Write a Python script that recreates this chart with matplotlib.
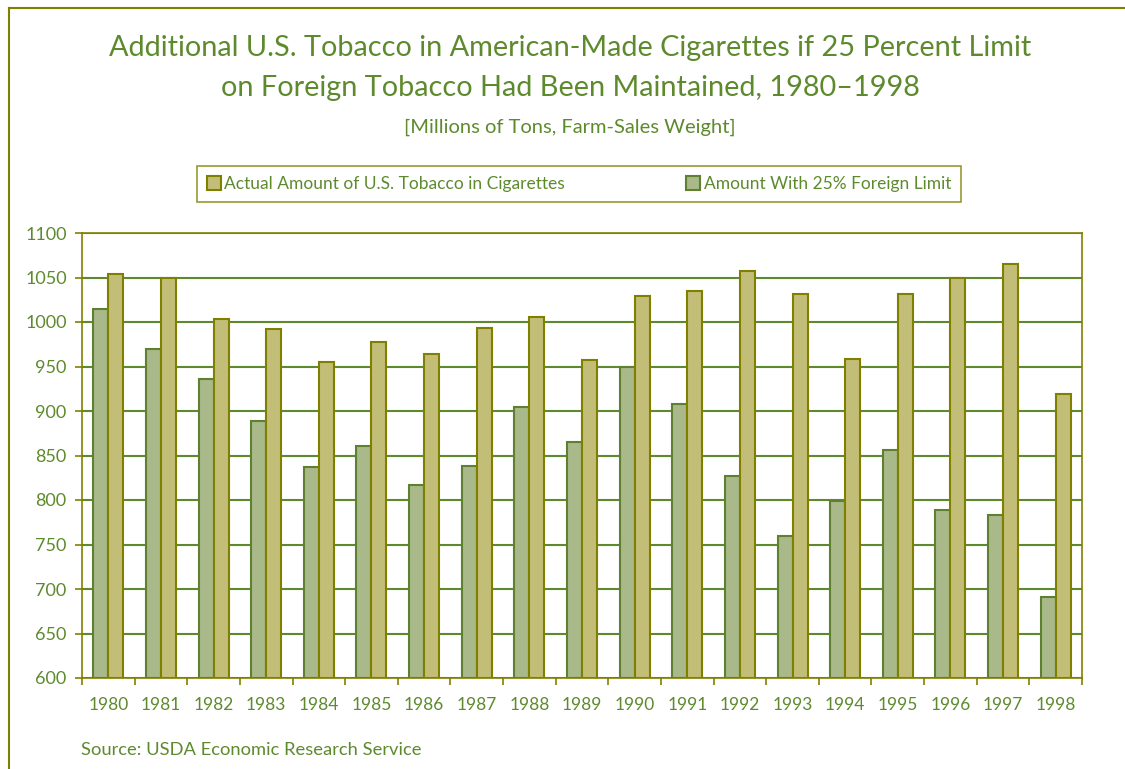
"""Additional U.S. tobacco in American-made cigarettes, 1980-1998 (grouped bars)."""
import matplotlib
matplotlib.use("Agg")
import matplotlib.pyplot as plt
from matplotlib.lines import Line2D
from matplotlib.patches import Patch
import numpy as np

years = ["1980", "1981", "1982", "1983", "1984", "1985", "1986", "1987", "1988", "1989",
         "1990", "1991", "1992", "1993", "1994", "1995", "1996", "1997", "1998"]
with_limit = [1015, 970, 936, 889, 837, 861, 817, 838, 904, 865,
              950, 908, 827, 760, 799, 856, 789, 783, 691]
actual = [1054, 1049, 1003, 992, 955, 978, 964, 993, 1006, 957,
          1029, 1035, 1057, 1031, 958, 1032, 1050, 1065, 919]

TEXT = "#5E8A2E"
OLIVE = "#808000"
GREEN_FILL, GREEN_EDGE = "#A9B98A", "#5E8030"
KHAKI_FILL, KHAKI_EDGE = "#C2BE78", "#808000"

plt.rcParams["font.family"] = ["Lato", "DejaVu Sans"]

W, H = 1125, 769
fig = plt.figure(figsize=(W / 100, H / 100), dpi=100)
ax = fig.add_axes([82 / W, 1 - 678 / H, 1000 / W, 445 / H])

x = np.arange(len(years))
bw = 0.285
ax.bar(x - bw / 2, np.array(with_limit) - 600, bw, bottom=600,
       color=GREEN_FILL, edgecolor=GREEN_EDGE, linewidth=1.5, zorder=3)
ax.bar(x + bw / 2, np.array(actual) - 600, bw, bottom=600,
       color=KHAKI_FILL, edgecolor=KHAKI_EDGE, linewidth=1.5, zorder=3)

ax.set_xlim(-0.5, len(years) - 0.5)
ax.set_ylim(600, 1100)
ax.set_yticks(np.arange(600, 1101, 50))
ax.yaxis.grid(True, color="#5E8A2E", linewidth=1.5, zorder=0)
ax.set_axisbelow(True)

ax.set_xticks(x)
ax.set_xticklabels(years)
ax.set_xticks(np.arange(-0.5, len(years), 1), minor=True)
ax.tick_params(axis="x", which="major", length=0, pad=14, labelsize=12.5, labelcolor=TEXT)
ax.tick_params(axis="x", which="minor", length=5, color=OLIVE, width=1.2)
ax.tick_params(axis="y", length=5, color=OLIVE, width=1.2, pad=6, labelsize=13, labelcolor=TEXT)
for s in ax.spines.values():
    s.set_color(OLIVE)
    s.set_linewidth(1.2)

fig.text(570 / W, 1 - 48 / H, "Additional U.S. Tobacco in American-Made Cigarettes if 25 Percent Limit",
         ha="center", va="center", fontsize=20.8, color=TEXT)
fig.text(570 / W, 1 - 88 / H, "on Foreign Tobacco Had Been Maintained, 1980\u20131998",
         ha="center", va="center", fontsize=20.8, color=TEXT)
fig.text(570 / W, 1 - 127 / H, "[Millions of Tons, Farm-Sales Weight]",
         ha="center", va="center", fontsize=14.5, color=TEXT)
fig.text(81 / W, 1 - 750 / H, "Source: USDA Economic Research Service",
         ha="left", va="center", fontsize=13.2, color=TEXT)

handles = [Patch(facecolor=KHAKI_FILL, edgecolor=KHAKI_EDGE, linewidth=1.5),
           Patch(facecolor=GREEN_FILL, edgecolor=GREEN_EDGE, linewidth=1.5)]
labels = ["Actual Amount of U.S. Tobacco in Cigarettes", "Amount With 25% Foreign Limit"]
leg = fig.legend(handles, labels, loc="center", ncol=2,
                 bbox_to_anchor=(579 / W, 1 - 184 / H),
                 fontsize=12.5, frameon=True, fancybox=False,
                 handlelength=0.8, handleheight=0.8, handletextpad=0.2,
                 columnspacing=7.0, borderpad=0.55, borderaxespad=0)
leg.get_frame().set_edgecolor(OLIVE)
leg.get_frame().set_linewidth(1.2)
for t in leg.get_texts():
    t.set_color(TEXT)

# outer frame (top and left edges visible)
fig.add_artist(Line2D([9 / W, 1], [1 - 8 / H, 1 - 8 / H], color=OLIVE, linewidth=1.5))
fig.add_artist(Line2D([9 / W, 9 / W], [0, 1 - 8 / H], color=OLIVE, linewidth=1.5))

fig.savefig("out.png", dpi=100)
